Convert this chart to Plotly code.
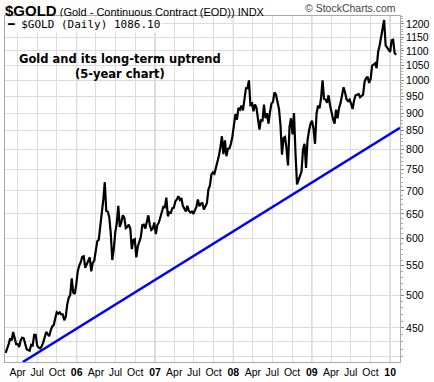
import math
import pandas as pd
import plotly.graph_objects as go

# ---- data (weekly closes) ----
start_date = "2005-02-04"
gold_2005 = [415, 420, 427, 435, 432, 444, 434, 427, 427, 423, 432, 436, 435,
             427, 420, 419, 418, 426, 425, 440, 440, 425, 422, 421, 424, 429,
             436, 444, 441, 438, 446, 452, 454, 466, 473, 471, 473, 470, 470,
             461, 466, 485, 496, 500, 528, 504, 502, 517]
gold_2006 = [540, 550, 556, 566, 567, 546, 553, 558, 565, 540, 555, 559, 582,
             595, 598, 623, 653, 680, 720, 656, 655, 643, 610, 560, 580, 613,
             630, 667, 623, 632, 647, 642, 621, 623, 628, 620, 580, 597, 599,
             565, 585, 593, 603, 627, 628, 620, 632, 647, 627, 617, 620, 632]
gold_2007 = [609, 627, 632, 645, 653, 665, 664, 685, 645, 653, 652, 662, 663,
             677, 681, 688, 680, 684, 667, 662, 655, 667, 656, 653, 655, 650,
             656, 665, 681, 666, 672, 673, 659, 668, 673, 703, 712, 738, 743,
             740, 754, 764, 784, 806, 835, 788, 824, 783, 802, 803, 815, 835]
gold_2008 = [865, 897, 881, 915, 910, 922, 908, 947, 975, 975, 1000, 920, 932,
             905, 925, 915, 885, 853, 882, 876, 925, 885, 900, 870, 903, 928,
             933, 962, 955, 928, 912, 865, 787, 830, 833, 803, 760, 860, 885,
             840, 900, 790, 715, 725, 735, 745, 800, 815, 754, 825, 850, 870]
gold_2009 = [878, 855, 815, 898, 922, 914, 944, 1000, 942, 940, 930, 953, 923,
             898, 882, 870, 910, 885, 915, 930, 958, 978, 962, 940, 935, 940,
             928, 912, 937, 953, 955, 957, 947, 952, 955, 996, 1007, 1012, 992,
             1004, 1049, 1052, 1057, 1040, 1096, 1119, 1147, 1180, 1215, 1120,
             1111, 1105]
gold_2010 = [1096, 1138, 1140, 1092, 1086.10]

trend_dates = ["2005-04-25", "2010-02-16"]
trend_values = [403, 858]

y_ticks = [410, 430, 450, 500, 550, 600, 650, 700, 750, 800, 850, 900, 950,
           1000, 1050, 1100, 1150, 1200]
y_labels = ["", ""] + [str(v) for v in y_ticks[2:]]

x_ticks = ["2005-04-01", "2005-07-01", "2005-10-01", "2006-01-01",
           "2006-04-01", "2006-07-01", "2006-10-01", "2007-01-01",
           "2007-04-01", "2007-07-01", "2007-10-01", "2008-01-01",
           "2008-04-01", "2008-07-01", "2008-10-01", "2009-01-01",
           "2009-04-01", "2009-07-01", "2009-10-01", "2010-01-01"]
x_labels = ["Apr", "Jul", "Oct", "<b>06</b>", "Apr", "Jul", "Oct", "<b>07</b>",
            "Apr", "Jul", "Oct", "<b>08</b>", "Apr", "Jul", "Oct", "<b>09</b>",
            "Apr", "Jul", "Oct", "<b>10</b>"]
year_lines = ["2006-01-01", "2007-01-01", "2008-01-01", "2009-01-01", "2010-01-01"]

gold = gold_2005 + gold_2006 + gold_2007 + gold_2008 + gold_2009 + gold_2010
dates = pd.date_range(start_date, periods=len(gold), freq="7D")

FONT = "Liberation Sans, Arial, sans-serif"
VFONT = "DejaVu Sans, Verdana, sans-serif"
MFONT = "DejaVu Sans Mono, monospace"

fig = go.Figure()
fig.add_trace(go.Scatter(x=dates, y=gold, mode="lines",
                         line=dict(color="black", width=2.2), showlegend=False,
                         name="$GOLD (Daily)"))
fig.add_trace(go.Scatter(x=pd.to_datetime(trend_dates), y=trend_values,
                         mode="lines", line=dict(color="#0000ff", width=2.5),
                         showlegend=False, cliponaxis=True))

for d in year_lines:
    fig.add_shape(type="line", xref="x", yref="paper", x0=d, x1=d, y0=0, y1=1,
                  line=dict(color="#b4b4b4", width=1), layer="below")

fig.update_layout(
    width=434, height=382,
    margin=dict(l=4, r=31, t=16, b=15),
    paper_bgcolor="white", plot_bgcolor="white",
    font=dict(family=FONT, size=10, color="black"),
    xaxis=dict(type="date", range=["2005-02-01", "2010-02-16"],
               tickmode="array", tickvals=x_ticks, ticktext=x_labels,
               showgrid=True, gridcolor="#dcdcdc", gridwidth=1,
               showline=True, linecolor="#a8a8a8", mirror=True,
               ticks="", tickfont=dict(family=FONT, size=10.5, color="black"),
               zeroline=False),
    yaxis=dict(type="log", side="right",
               range=[math.log10(403), math.log10(1231)],
               tickmode="array", tickvals=y_ticks, ticktext=y_labels,
               showgrid=True, gridcolor="#dcdcdc", gridwidth=1,
               showline=True, linecolor="#a8a8a8", mirror=True,
               ticks="outside", ticklen=3, tickcolor="#888888",
               tickfont=dict(family=FONT, size=10.5, color="black"),
               minor=dict(tickmode="array", tickvals=list(range(410, 1231, 10)),
                          ticks="outside", ticklen=2, tickcolor="#aaaaaa",
                          showgrid=False),
               zeroline=False),
    annotations=[
        dict(xref="paper", yref="paper", x=-0.005, y=1.0, yshift=16,
             xanchor="left", yanchor="top", showarrow=False,
             text="<span style='font-size:15px'><b>$GOLD</b></span> (Gold - Continuous Contract (EOD)) INDX",
             font=dict(family=FONT, size=11, color="black")),
        dict(xref="paper", yref="paper", x=0.995, y=1.0, yshift=16,
             xanchor="right", yanchor="top", showarrow=False,
             text="© StockCharts.com",
             font=dict(family=FONT, size=10.5, color="#444444")),
        dict(xref="paper", yref="paper", x=0.0, y=1.0, xshift=0, yshift=0,
             xanchor="left", yanchor="top", showarrow=False,
             text=f"<b>━</b> $GOLD (Daily) {gold[-1]:.2f}",
             bgcolor="white", borderpad=1,
             font=dict(family=MFONT, size=11, color="black")),
        dict(xref="paper", yref="paper", x=0.29, y=0.855,
             xanchor="center", yanchor="middle", showarrow=False,
             text="<b>Gold and its long-term uptrend<br>(5-year chart)</b>",
             font=dict(family=VFONT, size=11.5, color="black")),
    ],
)

fig.write_html("out.html", config={"displayModeBar": False},
               post_script="document.body.style.margin='0';document.body.style.overflow='hidden';")
